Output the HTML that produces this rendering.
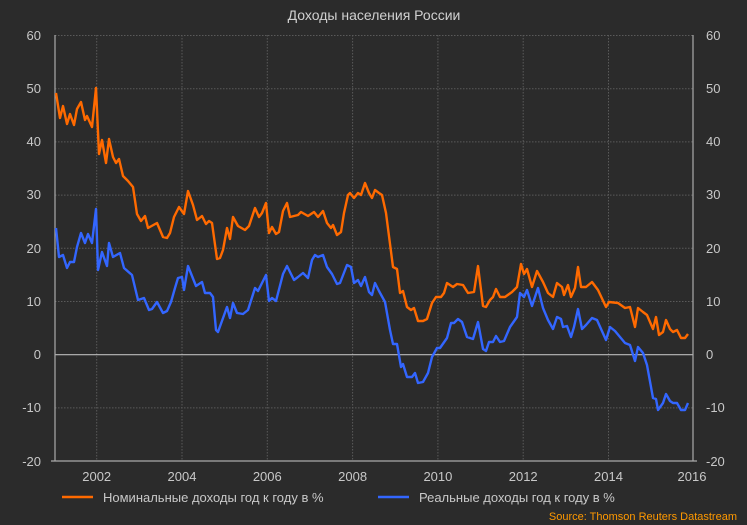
<!DOCTYPE html>
<html><head><meta charset="utf-8"><style>
html,body{margin:0;padding:0;background:#2b2b2b;}
svg{display:block;font-family:"Liberation Sans","DejaVu Sans",sans-serif;}
</style></head><body>
<svg width="747" height="525" viewBox="0 0 747 525" xmlns="http://www.w3.org/2000/svg">
<rect width="747" height="525" fill="#2b2b2b"/>
<text x="374" y="20" fill="#d0d0d0" font-size="14" text-anchor="middle">Доходы населения России</text>
<g stroke="#5a5a5a" stroke-width="1" stroke-dasharray="1.5,1.5">
<line x1="55" y1="35.5" x2="693" y2="35.5"/>
<line x1="55" y1="88.7" x2="693" y2="88.7"/>
<line x1="55" y1="141.9" x2="693" y2="141.9"/>
<line x1="55" y1="195.1" x2="693" y2="195.1"/>
<line x1="55" y1="248.3" x2="693" y2="248.3"/>
<line x1="55" y1="301.5" x2="693" y2="301.5"/>
<line x1="55" y1="407.9" x2="693" y2="407.9"/>
<line x1="96.7" y1="35" x2="96.7" y2="461"/>
<line x1="182" y1="35" x2="182" y2="461"/>
<line x1="267.3" y1="35" x2="267.3" y2="461"/>
<line x1="352.6" y1="35" x2="352.6" y2="461"/>
<line x1="437.9" y1="35" x2="437.9" y2="461"/>
<line x1="523.2" y1="35" x2="523.2" y2="461"/>
<line x1="608.5" y1="35" x2="608.5" y2="461"/>
</g>
<line x1="55" y1="354.7" x2="693" y2="354.7" stroke="#bbbbbb" stroke-width="1.2"/>
<g stroke="#aaaaaa" stroke-width="1.2" fill="none">
<line x1="55" y1="35" x2="55" y2="461"/>
<line x1="693" y1="35" x2="693" y2="461"/>
<line x1="51" y1="461" x2="697" y2="461"/>
</g>
<g id="ticks" stroke="#aaaaaa" stroke-width="1"></g>
<g fill="#c8c8c8" font-size="13" text-anchor="end">
<text x="41" y="40">60</text><text x="41" y="93">50</text><text x="41" y="146">40</text><text x="41" y="199">30</text><text x="41" y="253">20</text><text x="41" y="306">10</text><text x="41" y="359">0</text><text x="41" y="412">-10</text><text x="41" y="466">-20</text>
</g>
<g fill="#c8c8c8" font-size="13" text-anchor="start">
<text x="706" y="40">60</text><text x="706" y="93">50</text><text x="706" y="146">40</text><text x="706" y="199">30</text><text x="706" y="253">20</text><text x="706" y="306">10</text><text x="706" y="359">0</text><text x="706" y="412">-10</text><text x="706" y="466">-20</text>
</g>
<g fill="#c8c8c8" font-size="13" text-anchor="middle">
<text x="96.7" y="481">2002</text><text x="182" y="481">2004</text><text x="267.3" y="481">2006</text><text x="352.6" y="481">2008</text><text x="437.9" y="481">2010</text><text x="523.2" y="481">2012</text><text x="608.5" y="481">2014</text><text x="692" y="481">2016</text>
</g>
<polyline fill="none" stroke="#ff6a00" stroke-width="2.4" stroke-linejoin="round" points="56,93 60,118 63,106 67,124 70,114 74,125 77,109 81,102 85,120 87,116 92,127 96,88 99,154 102,140 106,163 109,139 113,157 116,163 119,159 123,176 128,181 133,187 137,214 141,221 145,216 148,228 157,223 163,237 167,238 170,233 174,217 179,207 184,214 188,191 193,205 197,220 202,216 206,224 209,221 212,223 217,259 220,258 223,250 227,228 230,239 233,217 238,226 245,230 249,226 255,208 259,217 262,213 266,203 269,233 272,227 276,234 279,232 283,211 287,203 290,217 298,215 301,212 308,216 314,212 318,217 323,211 327,223 331,228 333,225 337,235 341,232 344,213 348,195 350,193 354,198 358,193 361,195 365,183 369,193 372,198 375,190 379,193 382,195 386,213 393,267 397,269 400,293 403,291 407,307 411,310 414,308 418,321 423,321 427,319 432,303 436,297 441,297 444,293 447,283 453,287 457,284 463,285 468,293 474,292 478,266 483,306 486,307 490,300 493,297 496,289 500,297 505,297 512,292 517,287 521,264 524,274 527,269 532,287 537,271 543,282 548,293 553,297 557,283 562,287 564,295 568,285 571,297 575,288 578,267 581,287 586,287 592,282 598,290 606,307 609,302 618,303 625,308 630,307 635,327 638,308 643,312 647,315 653,329 656,317 659,335 663,332 666,320 670,329 673,332 677,330 681,338 685,338 688,334"/>
<polyline fill="none" stroke="#3366ff" stroke-width="2.4" stroke-linejoin="round" points="56,228 59,257 63,255 67,268 70,262 74,262 77,247 81,233 85,243 88,234 92,243 96,209 98,270 102,252 107,266 109,243 113,257 120,253 124,268 132,275 138,300 144,298 149,310 152,309 157,302 163,313 167,311 171,302 175,288 178,278 182,277 184,290 188,266 196,286 202,282 205,293 210,293 213,297 216,330 218,332 227,307 230,318 233,303 237,313 243,314 248,310 255,288 258,291 266,275 269,301 272,298 276,301 283,274 287,266 294,280 298,277 303,273 308,278 312,260 315,255 318,257 323,255 327,267 332,274 337,284 340,283 347,265 351,267 354,283 358,280 361,286 365,277 369,292 372,295 375,283 379,291 385,302 390,330 393,344 397,344 401,367 403,364 407,377 412,377 415,373 418,383 423,382 428,373 432,357 437,348 440,348 447,338 451,323 454,323 458,319 462,322 467,337 473,339 478,322 483,349 486,351 489,342 493,342 496,336 500,342 504,341 510,327 517,317 520,293 524,297 527,290 532,306 538,288 543,308 548,320 553,329 557,317 561,319 563,327 567,326 571,337 574,327 578,309 582,329 586,325 592,318 597,320 606,340 610,327 615,331 620,337 625,343 630,345 635,361 638,347 643,353 647,365 653,398 656,399 658,410 663,403 666,394 670,401 673,403 677,403 681,410 685,410 688,403"/>
<line x1="62" y1="497" x2="93" y2="497" stroke="#ff6a00" stroke-width="2.4"/>
<text x="103" y="502" fill="#c8c8c8" font-size="13">Номинальные доходы год к году в %</text>
<line x1="378" y1="497" x2="409" y2="497" stroke="#3366ff" stroke-width="2.4"/>
<text x="419" y="502" fill="#c8c8c8" font-size="13">Реальные доходы год к году в %</text>
<text x="737" y="520" fill="#ff9900" font-size="11" text-anchor="end">Source: Thomson Reuters Datastream</text>
<script>
(function(){var g=document.getElementById('ticks'),s='';
for(var v=-20;v<=60;v+=2){var y=460.7-(v+20)*5.3175;var L=(v%10==0)?5:3;
s+='<line x1="'+(55-L)+'" y1="'+y+'" x2="55" y2="'+y+'"/>';
s+='<line x1="693" y1="'+y+'" x2="'+(693-L)+'" y2="'+y+'"/>';}
for(var m=0;m<=90;m++){var x=54+m*(42.65/6);if(x>694)break;var L=(m%12==6)?6:3;
s+='<line x1="'+x+'" y1="461" x2="'+x+'" y2="'+(461+L)+'"/>';}
g.innerHTML=s;})();
</script>
</svg>
</body></html>
